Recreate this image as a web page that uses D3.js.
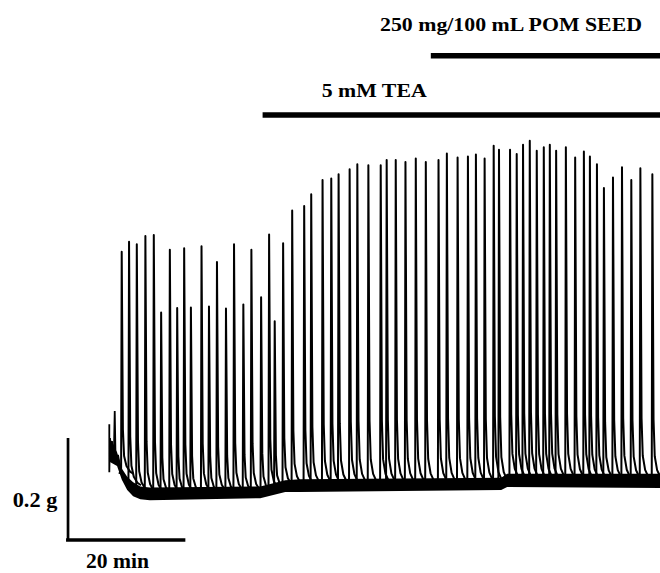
<!DOCTYPE html>
<html>
<head>
<meta charset="utf-8">
<script src="https://cdn.jsdelivr.net/npm/d3@7"></script>
<style>
  html, body { margin: 0; padding: 0; background: #fff; }
  svg { display: block; }
</style>
</head>
<body>
<svg id="chart" width="660" height="573"></svg>
<script>
// Isometric tension recording: phasic contractions (time in min, tension in g)

// Time of each contraction peak (min from start of recording)
const spikeTimes = [
  2.08, 3.31, 4.61, 6.05, 7.46, 8.69, 10.15, 11.38, 12.55, 13.68,
  15.46, 16.71, 18.05, 19.56, 20.91, 22.47, 23.82, 25.45, 26.79, 27.73,
  29.14, 30.66, 32.67, 33.85, 35.75, 37.21, 38.44, 40.29, 41.58, 43.43,
  45.50, 46.50, 48.02, 49.65, 51.38, 53.06, 55.19, 56.59, 58.39, 60.12,
  61.46, 62.92, 64.44, 65.33, 67.18, 68.30, 69.36, 70.49, 71.66, 72.84,
  73.85, 74.91, 76.54, 78.10, 79.56, 80.57, 81.75, 82.92, 84.44, 85.95,
  87.51, 89.03, 91.04
];

// Peak tension of each contraction (g)
const spikePeaks = [
  0.565, 0.585, 0.580, 0.596, 0.598, 0.446, 0.569, 0.455, 0.572, 0.456,
  0.576, 0.458, 0.545, 0.454, 0.580, 0.462, 0.569, 0.476, 0.599, 0.429,
  0.582, 0.646, 0.655, 0.678, 0.706, 0.709, 0.717, 0.727, 0.737, 0.735,
  0.735, 0.745, 0.745, 0.741, 0.748, 0.741, 0.745, 0.758, 0.750, 0.752,
  0.756, 0.748, 0.773, 0.765, 0.765, 0.757, 0.775, 0.783, 0.763, 0.770,
  0.775, 0.763, 0.770, 0.750, 0.762, 0.752, 0.737, 0.690, 0.711, 0.731,
  0.706, 0.729, 0.717
];

// Resting tension between contractions: upper and lower edge of the noisy baseline (g)
const restTimes = [0.1, 1.3, 2.1, 3.0, 4.0, 5.2, 6.8, 25.3, 29.5, 32.0, 65.7, 66.7, 92.6];
const restUpper = [0.200, 0.172, 0.140, 0.124, 0.113, 0.105, 0.103, 0.105, 0.117, 0.119, 0.122, 0.130, 0.130];
const restLower = [0.153, 0.145, 0.118, 0.098, 0.086, 0.080, 0.078, 0.082, 0.094, 0.094, 0.098, 0.104, 0.102];

// First minutes of the trace, before the first full contraction
const onsetTimes = [0, 0, 0.12, 0.29, 0.45, 0.62, 0.79, 0.91, 1.03, 1.21, 1.46, 1.80];
const onsetForce = [0.227, 0.133, 0.200, 0.176, 0.194, 0.161, 0.182, 0.253, 0.172, 0.153, 0.167, 0.145];

// Drug additions (label, time added in min)
const treatmentLabels = ["5 mM TEA", "250 mg/100 mL POM SEED"];
const treatmentStart = [25.7, 53.9];

// Calibration bars
const scaleBarForce = 0.2;   // g
const scaleBarTime = 20;     // min
const scaleBarLabels = ["0.2 g", "20 min"];

const svg = d3.select("#chart");
const W = 660;

const x = d3.scaleLinear().domain([0, 20]).range([109.3, 228.6]);
const y = d3.scaleLinear().domain([0, 0.2]).range([540, 438]);

const font = "'Liberation Serif', 'Times New Roman', Times, serif";

// baseline level under each contraction = middle of the resting band
const restMid = d3.scaleLinear()
  .domain(restTimes)
  .range(restTimes.map((_, i) => (restUpper[i] + restLower[i]) / 2));

// noisy resting band
svg.append("path")
  .datum(restTimes.map((t, i) => ({ t, hi: restUpper[i], lo: restLower[i] })))
  .attr("fill", "#000")
  .attr("d", d3.area()
    .x(d => x(d.t))
    .y0(d => y(d.lo))
    .y1(d => y(d.hi)));

// onset of the recording
svg.append("path")
  .datum(onsetTimes.map((t, i) => [t, onsetForce[i]]))
  .attr("fill", "none")
  .attr("stroke", "#000")
  .attr("stroke-width", 1.8)
  .attr("d", d3.line().x(d => x(d[0])).y(d => y(d[1])));

// contractions: fast rise, fast relaxation with a decaying tail
const spikeLine = d3.line().x(d => x(d[0])).y(d => y(d[1]));
const spikes = spikeTimes.map((t, i) => {
  const b = restMid(t);
  const h = spikePeaks[i] - b;
  return [
    [t - 0.4, b],
    [t - 0.1, b + 0.02 * h],
    [t, spikePeaks[i]],
    [t + 0.2, b + 0.2 * h],
    [t + 0.4, b + 0.08 * h],
    [t + 0.8, b + 0.035 * h],
    [t + 1.4, b + 0.01 * h],
    [t + 2.0, b]
  ];
});

svg.append("g")
  .selectAll("path")
  .data(spikes)
  .join("path")
  .attr("fill", "none")
  .attr("stroke", "#000")
  .attr("stroke-width", 2)
  .attr("stroke-linejoin", "round")
  .attr("d", spikeLine);

// treatment bars and labels
const barY = [115, 55.7];
const labelY = [96.5, 30.5];
const labelX = [321.7, 380];
const labelLen = [105, 262];

treatmentLabels.forEach((lab, i) => {
  svg.append("line")
    .attr("x1", x(treatmentStart[i])).attr("x2", W)
    .attr("y1", barY[i]).attr("y2", barY[i])
    .attr("stroke", "#000").attr("stroke-width", 5.5);
  svg.append("text")
    .attr("x", labelX[i]).attr("y", labelY[i])
    .attr("font-family", font).attr("font-weight", "bold")
    .attr("font-size", 19.5)
    .attr("textLength", labelLen[i]).attr("lengthAdjust", "spacingAndGlyphs")
    .text(lab);
});

// calibration bars
const sbT = -7.25;
svg.append("line")
  .attr("x1", x(sbT + 0.33)).attr("x2", x(sbT + 0.33))
  .attr("y1", y(0) + 1).attr("y2", y(scaleBarForce))
  .attr("stroke", "#000").attr("stroke-width", 2.7);
svg.append("line")
  .attr("x1", x(sbT)).attr("x2", x(sbT + scaleBarTime))
  .attr("y1", y(0)).attr("y2", y(0))
  .attr("stroke", "#000").attr("stroke-width", 3.5);

svg.append("text")
  .attr("x", 12.7).attr("y", 507.3)
  .attr("font-family", font).attr("font-weight", "bold")
  .attr("font-size", 20)
  .attr("textLength", 44.6).attr("lengthAdjust", "spacingAndGlyphs")
  .text(scaleBarLabels[0]);
svg.append("text")
  .attr("x", 86).attr("y", 568.3)
  .attr("font-family", font).attr("font-weight", "bold")
  .attr("font-size", 20)
  .attr("textLength", 63).attr("lengthAdjust", "spacingAndGlyphs")
  .text(scaleBarLabels[1]);
</script>
</body>
</html>
